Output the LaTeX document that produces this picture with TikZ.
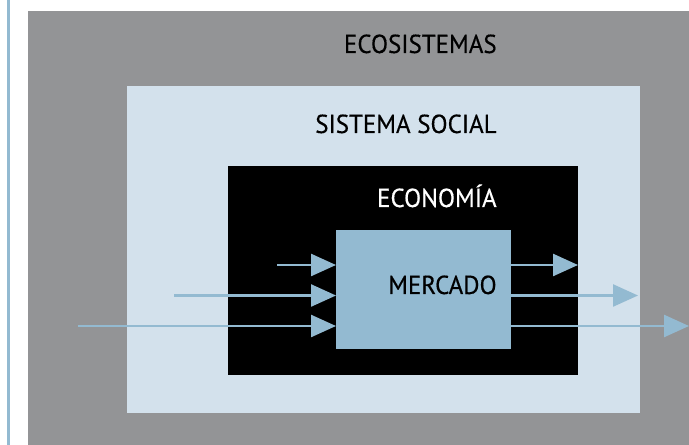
\documentclass[tikz,border=0pt]{standalone}
\usepackage{fontspec}
\setmainfont{PT Sans}[FakeStretch=0.96,FakeBold=0.4]
\usetikzlibrary{arrows.meta}
\definecolor{ecogray}{RGB}{147,148,150}
\definecolor{socialblue}{RGB}{211,225,236}
\definecolor{marketblue}{RGB}{147,186,209}
\tikzset{>={Triangle[length=0.5cm,width=0.44cm]}}
\tikzset{
  layer/.style={anchor=north west, inner sep=0pt, outer sep=0pt},
  title/.style={anchor=base east, inner sep=0pt, font=\fontsize{14.8pt}{16pt}\selectfont},
  flow/.style={->, marketblue, line width=0.05cm}
}

\begin{document}
\begin{tikzpicture}[x=0.02cm, y=-0.02cm]
    \clip (0,0) rectangle (689,445);
    \fill[white] (0,0) rectangle (689,445);
    \draw[marketblue, line width=0.055cm] (8.7,0) -- (8.7,445);

    % nested systems
    \node[layer, fill=ecogray, minimum width=14cm, minimum height=9cm] (eco) at (28,11) {};
    \node[layer, fill=socialblue, minimum width=10.26cm, minimum height=6.54cm] (social) at (127,86.5) {};
    \node[layer, fill=black, minimum width=7cm, minimum height=4.18cm] (economia) at (228,166) {};
    \node[layer, fill=marketblue, minimum width=3.5cm, minimum height=2.38cm] (mercado) at (336,230) {};

    \node[title] (ecotext) at (497,53) {ECOSISTEMAS};
    \node[title] (socialtext) at (497,133) {SISTEMA SOCIAL};
    \node[title, white] (economiatext) at (497,207) {ECONOMÍA};
    \node[title] (mercadotext) at (497,294) {MERCADO};

    % flows in and out of the market
    \coordinate (in1) at (277,265);
    \coordinate (in2) at (174,295.5);
    \coordinate (in3) at (78,326);
    \coordinate (out1) at (578,265);
    \coordinate (out2) at (638,295.5);
    \coordinate (out3) at (689,326);

    \draw[flow] (in1) -- (in1 -| mercado.west);
    \draw[flow] (in2) -- (in2 -| mercado.west);
    \draw[flow] (in3) -- (in3 -| mercado.west);
    \draw[flow] (out1 -| mercado.east) -- (out1);
    \draw[flow] (out2 -| mercado.east) -- (out2);
    \draw[flow] (out3 -| mercado.east) -- (out3);
\end{tikzpicture}
\end{document}
